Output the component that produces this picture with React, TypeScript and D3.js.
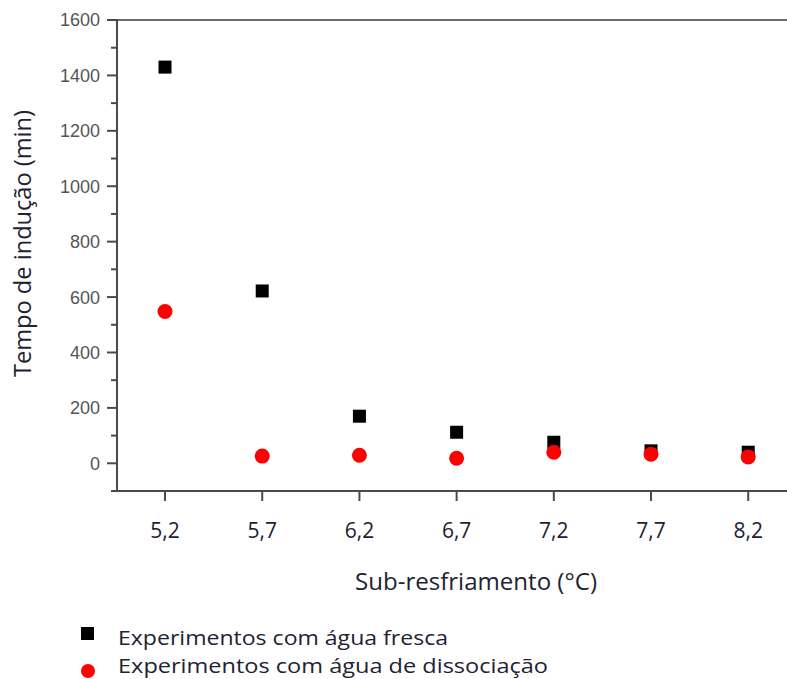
import React from "react";
import * as d3 from "d3";

// Sub-cooling levels (°C) and induction times (min)
const subcooling = [5.2, 5.7, 6.2, 6.7, 7.2, 7.7, 8.2];
const freshWater = [1430, 622, 170, 112, 76, 45, 40];
const dissociationWater = [548, 26, 29, 18, 40, 33, 23];
const yTicks = [0, 200, 400, 600, 800, 1000, 1200, 1400, 1600];
const yMinorTicks = [-100, 100, 300, 500, 700, 900, 1100, 1300, 1500];

const W = 787;
const H = 679;
const left = 117;
const right = 787;
const top = 20;
const bottom = 491;

export default function App() {
  const x = d3.scaleLinear().domain([4.953, 8.45]).range([left, left + (8.45 - 4.953) * 194.4]);
  const y = d3.scaleLinear().domain([-100, 1600]).range([bottom, top]);
  const fmt = (v: number) => v.toFixed(1).replace(".", ",");
  const axisColor = "#4a4a4a";
  const labelFont = "'Open Sans', 'DejaVu Sans', sans-serif";
  const tickFont = "'Liberation Sans', Arial, sans-serif";
  const textColor = "#1e2232";

  return (
    <svg width={W} height={H} style={{ position: "absolute", left: 0, top: 0, background: "#fff" }}>
      <rect width={W} height={H} fill="#fff" />
      {/* frame */}
      <line x1={left} x2={right} y1={top} y2={top} stroke="#6a6a6a" strokeWidth={2} />
      <line x1={left} x2={left} y1={top - 1} y2={bottom + 1} stroke={axisColor} strokeWidth={2} />
      <line x1={left - 1} x2={right} y1={bottom} y2={bottom} stroke={axisColor} strokeWidth={2} />

      {/* y ticks */}
      {yTicks.map((t) => (
        <g key={"y" + t}>
          <line x1={left - 10} x2={left} y1={y(t)} y2={y(t)} stroke={axisColor} strokeWidth={2} />
          <text x={left - 17} y={y(t)} dy="0.36em" textAnchor="end" fontFamily={tickFont} fontSize={18} fill="#555">
            {t}
          </text>
        </g>
      ))}
      {yMinorTicks.map((t) => (
        <line key={"ym" + t} x1={left - 6} x2={left} y1={y(t)} y2={y(t)} stroke={axisColor} strokeWidth={2} />
      ))}

      {/* x ticks */}
      {subcooling.map((s) => (
        <g key={"x" + s}>
          <line x1={x(s)} x2={x(s)} y1={bottom} y2={bottom + 10} stroke={axisColor} strokeWidth={2} />
          <text x={x(s)} y={538} textAnchor="middle" fontFamily={labelFont} fontSize={21} fill={textColor}>
            {fmt(s)}
          </text>
        </g>
      ))}

      {/* axis titles */}
      <text x={355} y={590} fontFamily={labelFont} fontSize={23} fill={textColor} textLength={242} lengthAdjust="spacingAndGlyphs">
        Sub-resfriamento (°C)
      </text>
      <text
        transform={`translate(31, 377) rotate(-90)`}
        fontFamily={labelFont}
        fontSize={23}
        fill={textColor}
        textLength={267}
        lengthAdjust="spacingAndGlyphs"
      >
        Tempo de indução (min)
      </text>

      {/* fresh water series */}
      {subcooling.map((s, i) => (
        <rect key={"f" + s} x={x(s) - 6.5} y={y(freshWater[i]) - 6.5} width={13} height={13} fill="#000" />
      ))}
      {/* dissociation water series */}
      {subcooling.map((s, i) => (
        <circle key={"d" + s} cx={x(s)} cy={y(dissociationWater[i])} r={7.5} fill="#ff0000" />
      ))}

      {/* legend */}
      <rect x={81} y={627} width={13} height={13} fill="#000" />
      <text x={118} y={645} fontFamily={labelFont} fontSize={20} fill={textColor} textLength={330} lengthAdjust="spacingAndGlyphs">
        Experimentos com água fresca
      </text>
      <circle cx={88} cy={671} r={7} fill="#ff0000" />
      <text x={118} y={673} fontFamily={labelFont} fontSize={20} fill={textColor} textLength={430} lengthAdjust="spacingAndGlyphs">
        Experimentos com água de dissociação
      </text>
    </svg>
  );
}
